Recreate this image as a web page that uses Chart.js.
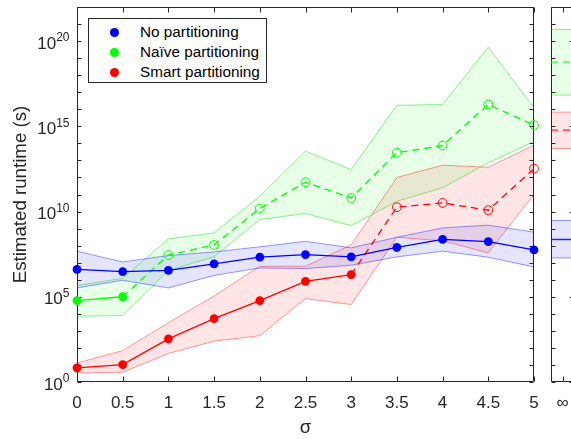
<!DOCTYPE html>
<html><head><meta charset="utf-8">
<script src="https://cdn.jsdelivr.net/npm/chart.js@4"></script>
<style>
html,body{margin:0;padding:0;background:#fff;overflow:hidden;width:571px;height:439px}
#main{position:absolute;left:0;top:0}
#inf{position:absolute;left:540px;top:0}
#legend{position:absolute;left:88px;top:18px;width:177px;height:63px;border:1px solid #262626;background:#fff;font-family:'Liberation Sans',Arial,sans-serif;font-size:15.3px;color:#000}
.row{position:absolute;left:0;height:20px;line-height:20px;white-space:nowrap}
.dot{position:absolute;left:21px;top:6px;width:9px;height:9px;border-radius:50%}
.lbl{position:absolute;left:51px;top:0}
</style></head>
<body>
<canvas id="main" width="545" height="439"></canvas>
<canvas id="inf" width="40" height="439"></canvas>
<div id="legend">
 <div class="row" style="top:3px"><span class="dot" style="background:#0000ff"></span><span class="lbl">No partitioning</span></div>
 <div class="row" style="top:23px"><span class="dot" style="background:#00ff00"></span><span class="lbl">Naïve partitioning</span></div>
 <div class="row" style="top:43px"><span class="dot" style="background:#ff0000"></span><span class="lbl">Smart partitioning</span></div>
</div>
<script>
// ---------- data ----------
const SIGMA = [0, 0.5, 1, 1.5, 2, 2.5, 3, 3.5, 4, 4.5, 5];
const X_TICK_LABELS = ['0','0.5','1','1.5','2','2.5','3','3.5','4','4.5','5'];
const INF_LABEL = ['∞'];

const NONE_MEAN = [4.0e6, 3.0e6, 3.5e6, 8.5e6, 2.1e7, 3.0e7, 2.2e7, 7.8e7, 2.3e8, 1.7e8, 5.6e7];
const NONE_HI   = [4.7e7, 1.1e7, 2.6e7, 4.3e7, 8.5e7, 1.8e8, 7.4e7, 3.1e8, 1.1e9, 1.6e9, 6.2e8];
const NONE_LO   = [3.3e5, 9.3e5, 3.3e5, 1.8e6, 4.9e6, 4.5e6, 7.1e6, 2.2e7, 4.7e7, 2.1e7, 5.6e6];

const NAIVE_MEAN = [6.0e4, 1.0e5, 2.8e7, 1.1e8, 1.5e10, 5.2e11, 6.3e10, 2.8e13, 7.4e13, 1.9e16, 1.2e15];
const NAIVE_HI   = [4.6e5, 1.2e6, 2.5e8, 5.6e8, 7.9e10, 3.5e13, 2.9e12, 1.7e16, 1.9e16, 4.4e19, 1.2e16];
const NAIVE_LO   = [7.2e3, 7.9e3, 3.5e6, 2.2e7, 3.4e9, 7.6e9, 1.5e9, 4.0e10, 2.5e11, 7.2e12, 1.3e14];

const SMART_MEAN = [6.8, 10.5, 340, 5.2e3, 6.0e4, 8.1e5, 2.0e6, 1.8e10, 3.2e10, 1.2e10, 3.3e12];
const SMART_HI   = [13, 69, 3.0e3, 1.1e5, 6.2e6, 6.2e6, 1.1e8, 1.0e12, 5.2e12, 4.0e12, 7.8e13];
const SMART_LO   = [3.4, 3.7, 47, 250, 520, 7.8e4, 3.5e4, 3.1e8, 1.9e8, 3.8e7, 1.0e11];

// number of measured (solid, filled) points; the rest are estimates (dashed, open)
const NAIVE_MEASURED = 2;
const SMART_MEASURED = 7;

// sigma = infinity panel: [none, naive, smart]
const INF_MEAN = [2.3e8, 5.8e18, 5.9e14];
const INF_HI   = [3.0e9, 4.8e20, 6.8e15];
const INF_LO   = [1.9e7, 6.8e16, 5.0e13];

const Y_TICK_EXP  = [0,1,2,3,4,5,6,7,8,9,10,11,12,13,14,15,16,17,18,19,20,21,22];
const Y_LABEL_EXP = [0, 5, 10, 15, 20];

// ---------- styles ----------
const FONT = "'Liberation Sans', Arial, Helvetica, sans-serif";
const AXIS_COLOR = '#262626';
const TICK_SIZE = 17, TITLE_SIZE = 18.7, EXP_SIZE = 12;
const BLUE = '#0000ff', GREEN = '#00ff00', RED = '#ff0000';
const FILL = {b:'rgba(0,0,255,0.10)', g:'rgba(0,255,0,0.09)', r:'rgba(255,0,0,0.10)'};
const EDGE = {b:'rgba(0,0,255,0.40)', g:'rgba(0,220,0,0.45)', r:'rgba(255,0,0,0.40)'};
const DASH = [7, 5];

function pts(arr, from, to) {
  const out = [];
  for (let i = from; i < to; i++) out.push({x: SIGMA[i], y: arr[i]});
  return out;
}
function band(hi, lo, key) {
  return [
    {data: hi, borderColor: EDGE[key], borderWidth: 1, pointRadius: 0, fill: '+1', backgroundColor: FILL[key], order: 5, tension: 0},
    {data: lo, borderColor: EDGE[key], borderWidth: 1, pointRadius: 0, fill: false, order: 5, tension: 0}
  ];
}
function solid(data, color) {
  return {data, borderColor: color, borderWidth: 1.3, pointRadius: 4.4, pointBackgroundColor: color,
          pointBorderColor: color, pointBorderWidth: 0, fill: false, order: 0, clip: false, tension: 0};
}
function dashed(data, color) {
  return {data, borderColor: color, borderWidth: 1.3, borderDash: DASH,
          pointRadius: data.map((p, i) => i === 0 ? 0 : 4.4), pointBackgroundColor: 'rgba(0,0,0,0)',
          pointBorderColor: color, pointBorderWidth: 1, fill: false, order: 1, clip: false, tension: 0};
}
function fixX(s) { s.height = 57; s.paddingLeft = 0; s.paddingRight = 0; }

// frame + inward ticks + y labels
function framePlugin(opts) {
  return {
    id: 'frame',
    beforeDatasetsDraw(chart) {
      const {ctx, chartArea: a, scales} = chart;
      const y = scales.y, x = scales.x;
      ctx.save();
      ctx.strokeStyle = AXIS_COLOR;
      ctx.lineWidth = 1;
      ctx.beginPath();
      const L = Math.round(a.left) + 0.5, R = Math.round(a.right) - 0.5;
      const T = Math.round(a.top) + 0.5, B = Math.round(a.bottom) - 0.5;
      ctx.moveTo(L, T); ctx.lineTo(R, T); ctx.lineTo(R, B); ctx.lineTo(L, B); ctx.closePath();
      for (const e of Y_TICK_EXP) {
        const py = Math.round(y.getPixelForValue(Math.pow(10, e))) + 0.5;
        ctx.moveTo(L, py); ctx.lineTo(L + 4, py);
        if (opts.rightAll || Y_LABEL_EXP.includes(e)) { ctx.moveTo(R, py); ctx.lineTo(R - 4, py); }
      }
      for (const v of opts.xticks) {
        const px = Math.round(x.getPixelForValue(v)) + 0.5;
        ctx.moveTo(px, B); ctx.lineTo(px, B - 5);
        ctx.moveTo(px, T); ctx.lineTo(px, T + 5);
      }
      ctx.stroke();
      if (opts.labels) {
        ctx.fillStyle = AXIS_COLOR;
        ctx.textBaseline = 'middle';
        for (const e of Y_LABEL_EXP) {
          const py = y.getPixelForValue(Math.pow(10, e));
          ctx.font = EXP_SIZE + 'px ' + FONT;
          const es = String(e);
          const ew = ctx.measureText(es).width;
          const right = L - 8;
          ctx.textAlign = 'left';
          ctx.fillText(es, right - ew, py - 3);
          ctx.font = TICK_SIZE + 'px ' + FONT;
          ctx.textAlign = 'right';
          ctx.fillText('10', right - ew, py + 3);
        }
      }
      ctx.restore();
    }
  };
}

Chart.defaults.font.family = FONT;
Chart.defaults.color = AXIS_COLOR;

// ---------- main panel ----------
new Chart(document.getElementById('main'), {
  type: 'line',
  data: {
    datasets: [
      solid(pts(NONE_MEAN, 0, SIGMA.length), BLUE),
      solid(pts(NAIVE_MEAN, 0, NAIVE_MEASURED), GREEN),
      solid(pts(SMART_MEAN, 0, SMART_MEASURED), RED),
      dashed(pts(NAIVE_MEAN, NAIVE_MEASURED - 1, SIGMA.length), GREEN),
      dashed(pts(SMART_MEAN, SMART_MEASURED - 1, SIGMA.length), RED),
      ...band(pts(NONE_HI, 0, SIGMA.length), pts(NONE_LO, 0, SIGMA.length), 'b'),
      ...band(pts(NAIVE_HI, 0, SIGMA.length), pts(NAIVE_LO, 0, SIGMA.length), 'g'),
      ...band(pts(SMART_HI, 0, SIGMA.length), pts(SMART_LO, 0, SIGMA.length), 'r')
    ]
  },
  options: {
    responsive: false, animation: false, devicePixelRatio: 1,
    layout: {padding: {top: 7, right: 11, left: 0, bottom: 0}},
    plugins: {legend: {display: false}, tooltip: {enabled: false}, filler: {drawTime: 'beforeDatasetsDraw', propagate: false}},
    scales: {
      x: {
        type: 'linear', min: 0, max: 5,
        afterBuildTicks: s => { s.ticks = SIGMA.map(v => ({value: v})); },
        ticks: {callback: (v, i) => X_TICK_LABELS[i], font: {size: TICK_SIZE}, color: AXIS_COLOR, padding: 11, maxRotation: 0, autoSkip: false},
        grid: {display: false, drawTicks: false}, border: {display: false},
        title: {display: true, text: 'σ', font: {size: TITLE_SIZE}, color: AXIS_COLOR, padding: {top: 0, bottom: 0}},
        afterFit: fixX
      },
      y: {
        type: 'logarithmic', min: 1, max: 1e22,
        ticks: {display: false},
        grid: {display: false, drawTicks: false}, border: {display: false},
        title: {display: true, text: 'Estimated runtime (s)', font: {size: TITLE_SIZE}, color: AXIS_COLOR, padding: {top: 10, bottom: 0}},
        afterFit: s => { s.width = 77; }
      }
    }
  },
  plugins: [framePlugin({xticks: SIGMA, labels: true, rightAll: true})]
});

// ---------- sigma = infinity panel ----------
const INF_X = [0, 1];
function flat(v) { return INF_X.map(x => ({x, y: v})); }
const INF_TICK = [0.5];
new Chart(document.getElementById('inf'), {
  type: 'line',
  data: {
    datasets: [
      {data: flat(INF_MEAN[0]), borderColor: 'rgba(0,0,255,0.85)', borderWidth: 1.5, pointRadius: 0, fill: false, order: 0},
      {data: flat(INF_MEAN[1]), borderColor: 'rgba(0,255,0,0.6)', borderWidth: 2, borderDash: DASH, pointRadius: 0, fill: false, order: 0},
      {data: flat(INF_MEAN[2]), borderColor: 'rgba(255,0,0,0.6)', borderWidth: 2, borderDash: DASH, pointRadius: 0, fill: false, order: 0},
      ...band(flat(INF_HI[0]), flat(INF_LO[0]), 'b'),
      ...band(flat(INF_HI[1]), flat(INF_LO[1]), 'g'),
      ...band(flat(INF_HI[2]), flat(INF_LO[2]), 'r')
    ]
  },
  options: {
    responsive: false, animation: false, devicePixelRatio: 1,
    layout: {padding: {top: 7, right: 6, left: 11, bottom: 0}},
    plugins: {legend: {display: false}, tooltip: {enabled: false}, filler: {drawTime: 'beforeDatasetsDraw', propagate: false}},
    scales: {
      x: {
        type: 'linear', min: 0, max: 1,
        afterBuildTicks: s => { s.ticks = INF_TICK.map(v => ({value: v})); },
        ticks: {callback: (v, i) => INF_LABEL[i], font: {size: TICK_SIZE}, color: AXIS_COLOR, padding: 11, maxRotation: 0, autoSkip: false},
        grid: {display: false, drawTicks: false}, border: {display: false},
        afterFit: fixX
      },
      y: {type: 'logarithmic', min: 1, max: 1e22, display: false}
    }
  },
  plugins: [framePlugin({xticks: INF_TICK, labels: false, rightAll: false})]
});
</script>
</body></html>
